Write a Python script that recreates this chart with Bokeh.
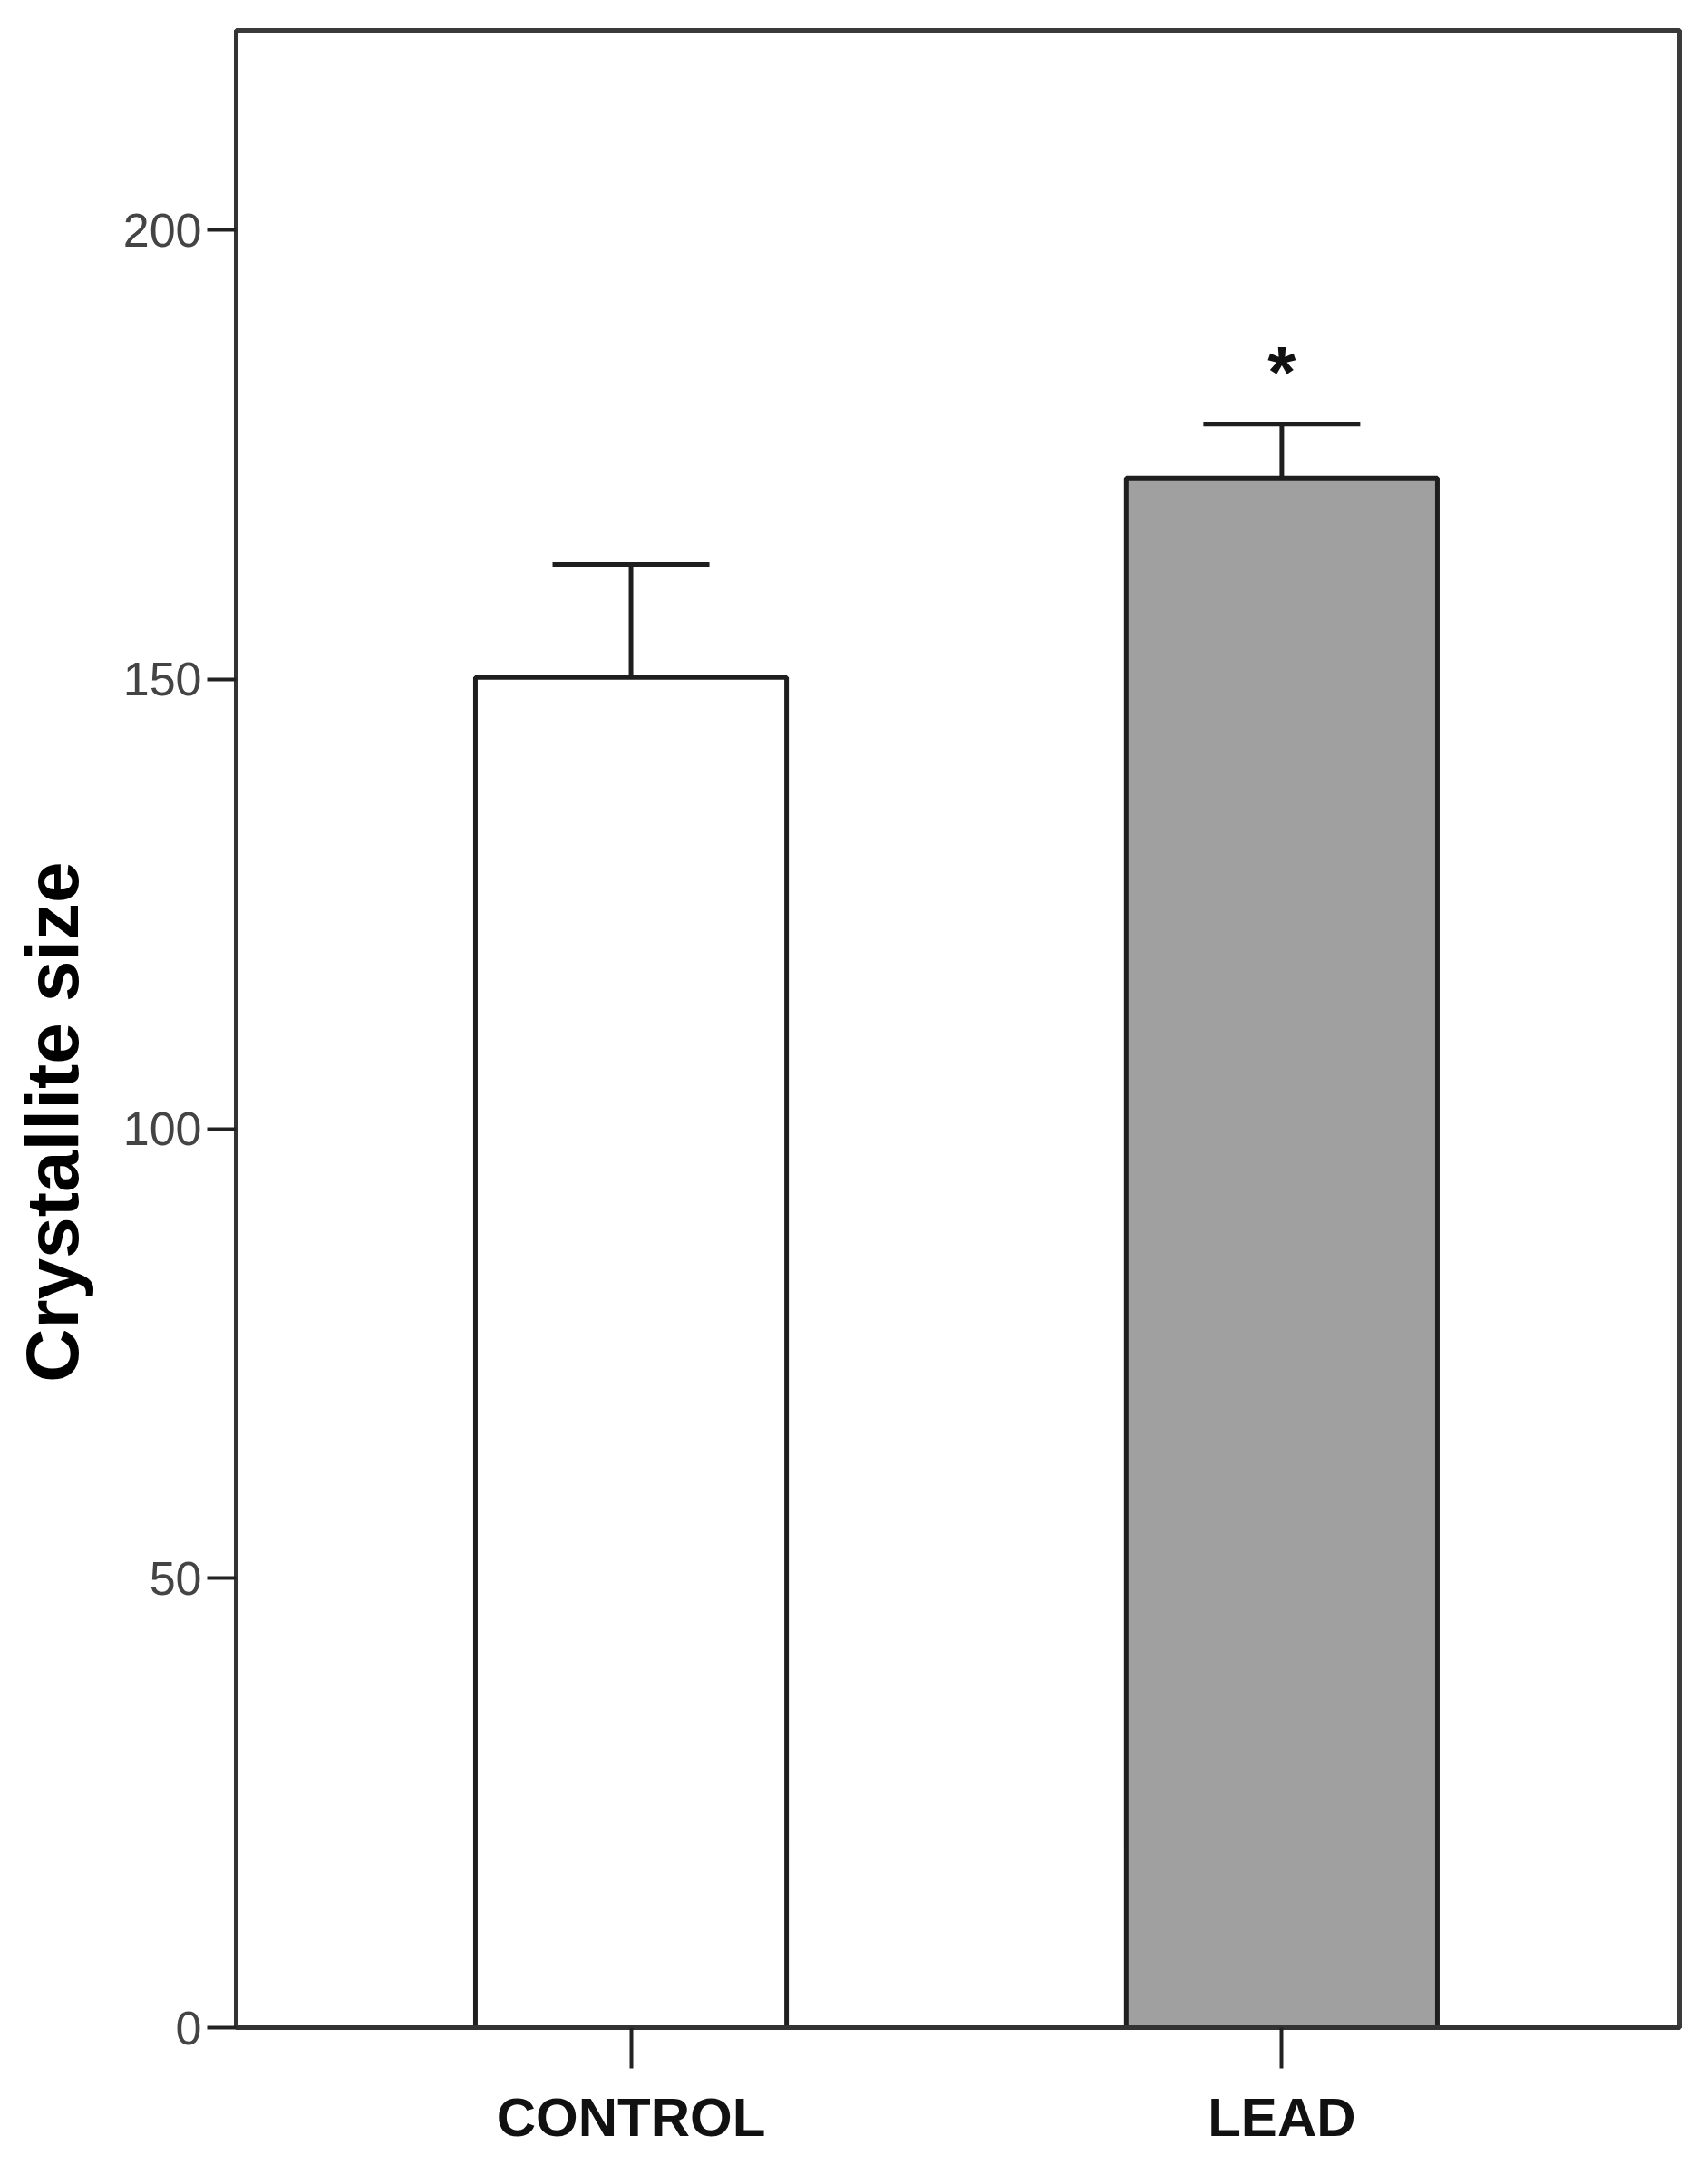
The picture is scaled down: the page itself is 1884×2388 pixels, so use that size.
from bokeh.plotting import figure
from bokeh.models import Range1d, FixedTicker, ColumnDataSource, LinearAxis
from bokeh.core.properties import value
from bokeh.embed import file_html
from bokeh.resources import INLINE

# ---- data ----
categories = ["CONTROL", "LEAD"]
positions = [1, 2]
means = [150.2, 172.4]
upper_err = [162.8, 178.4]
bar_colors = ["#ffffff", "#a0a0a0"]
y_ticks = [0, 50, 100, 150, 200]
sig_marks = ["", "*"]
sig_y = [0, 185.2]
y_title = "Crystallite size"

p = figure(width=1876, height=2380, output_backend="svg", toolbar_location=None,
           x_range=Range1d(0.3933, 2.611), y_range=Range1d(0, 222.2),
           min_border_left=260, min_border_top=33, min_border_right=24,
           min_border_bottom=144)

src = ColumnDataSource(dict(x=positions, top=means, up=upper_err, color=bar_colors))
p.vbar(x="x", top="top", bottom=0, width=0.478, source=src, fill_color="color",
       line_color="#1e1e1e", line_width=5)
p.segment(x0="x", y0="top", x1="x", y1="up", source=src, line_color="#1e1e1e", line_width=5)
p.segment(x0=[x - 0.1205 for x in positions], y0=upper_err,
          x1=[x + 0.1205 for x in positions], y1=upper_err,
          line_color="#1e1e1e", line_width=5)

p.text(x=[positions[1]], y=[sig_y[1]], text=[sig_marks[1]], text_align="center",
       text_baseline="middle", text_font=value("Liberation Sans"), text_font_style="bold",
       text_font_size="80px", text_color="#111111", y_offset=10)

p.xgrid.visible = False
p.ygrid.visible = False
p.outline_line_color = "#3a3a3a"
p.outline_line_width = 5
p.outline_line_alpha = 1

xa = p.xaxis[0]
xa.ticker = FixedTicker(ticks=positions)
xa.major_label_overrides = {positions[i]: categories[i] for i in range(len(categories))}
xa.major_tick_out = 45
xa.major_tick_in = 0
xa.minor_tick_out = 0
xa.minor_tick_in = 0
xa.major_tick_line_width = 4
xa.major_tick_line_color = "#222222"
xa.axis_line_width = 5
xa.axis_line_color = "#333333"
xa.major_label_text_font = "Liberation Sans"
xa.major_label_text_font_style = "bold"
xa.major_label_text_font_size = "60px"
xa.major_label_text_color = "#111111"
xa.major_label_standoff = 20

ya = p.yaxis[0]
ya.ticker = FixedTicker(ticks=y_ticks)
ya.major_tick_out = 32
ya.major_tick_in = 0
ya.minor_tick_out = 0
ya.minor_tick_in = 0
ya.major_tick_line_width = 4
ya.major_tick_line_color = "#222222"
ya.axis_line_width = 5
ya.axis_line_color = "#333333"
ya.major_label_text_font = "Liberation Sans"
ya.major_label_text_font_size = "52px"
ya.major_label_text_color = "#444444"
ya.major_label_standoff = 6

# extra axis carrying only the title; trailing no-break spaces move the visible
# words below the frame middle, as in the original
title_axis = LinearAxis(ticker=FixedTicker(ticks=[]),
                        axis_line_color=None, major_tick_line_color=None,
                        minor_tick_line_color=None, major_label_text_font_size="0px",
                        axis_label=y_title + "\u00a0" * 9, axis_label_standoff=30,
                        axis_label_text_font="Liberation Sans",
                        axis_label_text_font_style="bold",
                        axis_label_text_font_size="82px",
                        axis_label_text_color="#000000")
p.add_layout(title_axis, "left")

open("out.html", "w").write(file_html(p, INLINE))
